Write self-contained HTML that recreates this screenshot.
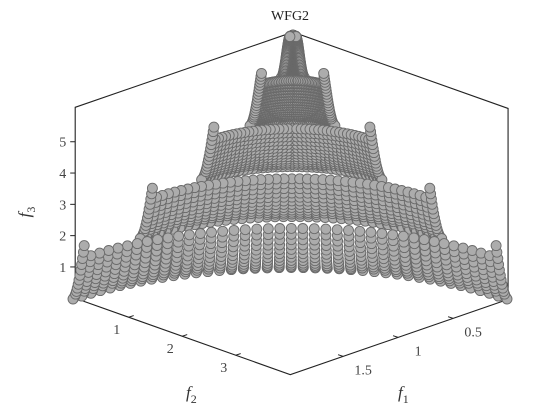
<!DOCTYPE html>
<html><head><meta charset="utf-8"><style>
body{margin:0;background:#fff;}
svg{display:block;font-family:"Liberation Serif",serif;}
</style></head><body>
<svg id="chart" width="560" height="420" viewBox="0 0 560 420" xmlns="http://www.w3.org/2000/svg">
<rect width="560" height="420" fill="#fff"/>
<g id="box"></g>
<g id="pts"></g>
<g id="axes"></g>
<text x="290" y="20" text-anchor="middle" font-size="14" fill="#222">WFG2</text>
<text x="30" y="212" text-anchor="middle" font-size="17" font-style="italic" fill="#333" transform="rotate(-90 30 212)">f<tspan font-size="12" font-style="normal" dy="5">3</tspan></text>
<text x="186" y="398" font-size="17" font-style="italic" fill="#333">f<tspan font-size="12" font-style="normal" dy="5">2</tspan></text>
<text x="398" y="398" font-size="17" font-style="italic" fill="#333">f<tspan font-size="12" font-style="normal" dy="5">1</tspan></text>
</svg>
<script>
// WFG2 parameters
const scales = [2, 4, 6];
const discA = 5;
const edgeRise = 0.07;
const x1Samples = Array.from({length: 401}, (_, i) => i / 400);
const x2Samples = Array.from({length: 41}, (_, i) => i / 40);
const f1Ticks = [0.5, 1, 1.5];
const f1TickLabels = ["0.5", "1", "1.5"];
const f2Ticks = [1, 2, 3];
const f2TickLabels = ["1", "2", "3"];
const f3Ticks = [1, 2, 3, 4, 5];
const f3TickLabels = ["1", "2", "3", "4", "5"];
const lim = {f1: 1.98, f2: 4.02, f3: 6.1};

const NS = "http://www.w3.org/2000/svg";
function P(f1, f2, f3) {
  return [293 - 110 * f1 + 53.5 * f2, 223 + 38 * f1 + 19 * f2 - 31.3 * f3];
}
function mk(tag, attrs, parent) {
  const e = document.createElementNS(NS, tag);
  for (const k in attrs) e.setAttribute(k, attrs[k]);
  parent.appendChild(e);
  return e;
}
const box = document.getElementById('box');
const hex = [P(0,0,lim.f3), P(lim.f1,0,lim.f3), P(lim.f1,0,0), P(lim.f1,lim.f2,0), P(0,lim.f2,0), P(0,lim.f2,lim.f3)];
const outline = mk('polygon', {points: hex.map(p => p.join(',')).join(' '), fill: 'none', stroke: '#222', 'stroke-width': 1.1}, box);



function disc(x1) { const c = Math.cos(discA * Math.PI * x1); return 1 - x1 * c * c; }
const pts = [];
let runMin = Infinity;
function addPoint(x1, x2, h3) {
  const a = 1 - Math.cos(x1 * Math.PI / 2);
  const h1 = a * (1 - Math.cos(x2 * Math.PI / 2));
  const h2 = a * (1 - Math.sin(x2 * Math.PI / 2));
  pts.push([scales[0] * h1, scales[1] * h2, scales[2] * h3]);
}
for (const x1 of x1Samples) {
  const h3 = disc(x1);
  const descending = disc(x1 + 0.001) < h3;
  const interior = h3 <= runMin + 1e-9;
  const edgeOk = !interior && descending && h3 <= runMin + edgeRise;
  if (interior) runMin = h3;
  for (const x2 of x2Samples) {
    const edge = (x2 === 0 || x2 === 1);
    if (interior || (edge && edgeOk)) addPoint(x1, x2, h3);
  }
}
pts.sort((p, q) => (p[0]/2 + p[1]/4 + 0.6*p[2]/6) - (q[0]/2 + q[1]/4 + 0.6*q[2]/6));
const g = document.getElementById('pts');
for (const p of pts) {
  const s = P(p[0], p[1], p[2]);
  const c = mk('circle', {cx: s[0].toFixed(1), cy: s[1].toFixed(1), r: 5, fill: '#acacac', stroke: '#6a6a6a', 'stroke-width': 0.9}, g);
  
  
}

const ax = document.getElementById('axes');
f3Ticks.forEach((v, i) => {
  const s = P(lim.f1, 0, v);
  const t = mk('line', {x1: s[0] - 5, y1: s[1], x2: s[0], y2: s[1], stroke: '#222'}, ax);
  
  
  const l = mk('text', {x: s[0] - 9, y: s[1] + 5, 'text-anchor': 'end', 'font-size': 14, fill: '#444'}, ax);
  l.textContent = f3TickLabels[i];
  
  
});
f2Ticks.forEach((v, i) => {
  const s = P(lim.f1, v, 0);
  const t = mk('line', {x1: s[0], y1: s[1], x2: s[0] + 5, y2: s[1] - 1.7, stroke: '#222'}, ax);
  
  
  const l = mk('text', {x: s[0] - 12, y: s[1] + 17, 'text-anchor': 'middle', 'font-size': 14, fill: '#444'}, ax);
  l.textContent = f2TickLabels[i];
  
  
});
f1Ticks.forEach((v, i) => {
  const s = P(v, lim.f2, 0);
  const t = mk('line', {x1: s[0], y1: s[1], x2: s[0] - 5, y2: s[1] - 1.7, stroke: '#222'}, ax);
  
  
  const l = mk('text', {x: s[0] + 20, y: s[1] + 18, 'text-anchor': 'middle', 'font-size': 14, fill: '#444'}, ax);
  l.textContent = f1TickLabels[i];
  
  
});
</script>
</body></html>
